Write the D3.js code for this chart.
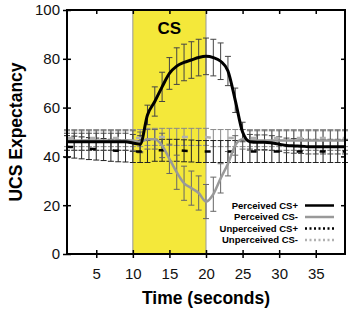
<!DOCTYPE html>
<html>
<head>
<meta charset="utf-8">
<script src="https://cdn.jsdelivr.net/npm/d3@7"></script>
<style>
  html, body { margin: 0; padding: 0; background: #fff; }
  svg { display: block; }
  text { font-family: "Liberation Sans", Arial, sans-serif; }
</style>
</head>
<body>
<svg id="chart" width="350" height="314"></svg>
<script>
// ---- data ----
const time = [1,2,3,4,5,6,7,8,9,10,11,12,13,14,15,16,17,18,19,20,21,22,23,24,25,26,27,28,29,30,31,32,33,34,35,36,37,38,39];
const percPlus = [46,46,46,46,46,46,46,46,46,45.5, 45,57,62.5,68.5,74,77,78.5,79.5,80.5,81, 80.5,79,75,63,50,46,45.8,45.8,45.5,45, 44.5,44.3,44.2,44,44,44,44,44,44];
const percPlusErr = [3.5,3.5,3.5,3.5,3.5,3.5,3.5,3.5,3.5,3.5, 3.5,4,6,6,6.5,7.5,7.5,7.5,7.5,7.5, 7.5,7.5,6,5,4,3,3,3,3,3, 3,3,3,3,3,3,3,3,3];
const percMinus = [46.5,46.5,46.5,46.5,46.5,46.5,46.5,46.5,46.5,46.5, 46,47,47,44.5,39,33.5,29,27,25,21.5, 24.5,31,37,44.5,47,46.5,46.5,46.5,46.5,46.5, 46.5,46.5,46.5,46.5,46.5,46.5,46.5,46.5,46.5];
const percMinusErr = [4,4,4,4,4,4,4,4,4,4, 4,4,4,5,6,7,7,7,7,7, 7,6,5,4,4,4,4,4,4,4, 4,4,4,4,4,4,4,4,4];
const unpPlus = [44,43.8,43.5,43.2,43,42.8,42.5,42.3,42.2,42, 42,42,42.5,42.5,42.5,42.5,42.3,42.2,42,42, 42,42,42,42,42,42,42,42,42,42, 42,42,42,42,42,42,42,42,42];
const unpPlusErr = [4.5,4.5,4.5,4.5,4.5,4.5,4.5,4.5,4.5,4.5, 4.5,4.5,4.5,4.5,4.5,4.5,4.5,4.5,4.5,4.5, 4.5,4.5,4.5,4.5,4.5,4.5,4.5,4.5,4.5,4.5, 4.5,4.5,4.5,4.5,4.5,4.5,4.5,4.5,4.5];
const unpMinus = [47.5,47.5,47.5,47.5,47.5,47.5,47.5,47.5,47.5,47.5, 47.5,48,48,48,48,48,48,48,48,48, 47.5,47.5,47.5,47.5,47.5,47.5,47.5,47.5,47.5,47.5, 47.5,47.5,47.5,47.5,47.5,47.5,47.5,47.5,47.5];
const unpMinusErr = [3.5,3.5,3.5,3.5,3.5,3.5,3.5,3.5,3.5,3.5, 3.5,3.5,3.5,3.5,3.5,3.5,3.5,3.5,3.5,3.5, 3.5,3.5,3.5,3.5,3.5,3.5,3.5,3.5,3.5,3.5, 3.5,3.5,3.5,3.5,3.5,3.5,3.5,3.5,3.5];
const csWindow = [10, 20];
const xTicks = [5,10,15,20,25,30,35];
const yTicks = [0,20,40,60,80,100];
const legendLabels = ["Perceived CS+", "Perceived CS-", "Unperceived CS+", "Unperceived CS-"];

// ---- layout ----
const svg = d3.select("#chart");
const L = 67, R = 345, T = 10, B = 254;
const x = d3.scaleLinear().domain([1, 39]).range([L, R]);
const y = d3.scaleLinear().domain([0, 100]).range([B, T]);

svg.append("rect").attr("width", 350).attr("height", 314).attr("fill", "#fff");

// CS window
svg.append("rect")
  .attr("x", x(csWindow[0])).attr("y", T)
  .attr("width", x(csWindow[1]) - x(csWindow[0])).attr("height", B - T)
  .attr("fill", "#f4e83a");
csWindow.forEach(v => svg.append("line")
  .attr("x1", x(v)).attr("x2", x(v)).attr("y1", T).attr("y2", B)
  .attr("stroke", "#999").attr("stroke-width", 1));

svg.append("text").attr("x", x(15)).attr("y", 34)
  .attr("text-anchor", "middle").attr("font-size", 17).attr("font-weight", "bold")
  .text("CS");

const series = [
  { vals: unpMinus, err: unpMinusErr, color: "#b0b0b0", errColor: "#8a8a8a", width: 2.5, dash: "6,17", legendDash: "2,2.5" },
  { vals: unpPlus, err: unpPlusErr, color: "#000", errColor: "#222", width: 2.5, dash: "6,17", legendDash: "2,2.5" },
  { vals: percMinus, err: percMinusErr, color: "#999", errColor: "#666", width: 2.5, dash: null, legendDash: null },
  { vals: percPlus, err: percPlusErr, color: "#000", errColor: "#444", width: 3, dash: null, legendDash: null }
];

const cap = 3;
const plot = svg.append("g");
// error bars
series.forEach(s => {
  const g = plot.append("g").attr("stroke", s.errColor).attr("stroke-width", 1).attr("fill", "none");
  time.forEach((t, i) => {
    const cx = x(t), y0 = y(s.vals[i] - s.err[i]), y1 = y(s.vals[i] + s.err[i]);
    g.append("path").attr("d",
      `M${cx},${y0}V${y1}M${cx - cap},${y0}H${cx + cap}M${cx - cap},${y1}H${cx + cap}`);
  });
});
// lines
const lineGen = vals => d3.line().x((d, i) => x(time[i])).y(d => y(d)).curve(d3.curveMonotoneX)(vals);
series.forEach(s => {
  const p = plot.append("path").attr("d", lineGen(s.vals))
    .attr("fill", "none").attr("stroke", s.color).attr("stroke-width", s.width)
    .attr("stroke-linejoin", "round");
  if (s.dash) p.attr("stroke-dasharray", s.dash);
});

// axes
const fontSize = 15;
const gx = svg.append("g").attr("transform", `translate(0,${B})`)
  .call(d3.axisBottom(x).tickValues(xTicks).tickSize(4).tickPadding(10.5));
gx.selectAll(".tick line").attr("y1", -4).attr("stroke-width", 1.5);
const gy = svg.append("g").attr("transform", `translate(${L},0)`)
  .call(d3.axisLeft(y).tickValues(yTicks).tickSize(4).tickPadding(3));
gy.selectAll(".tick line").attr("x1", 4).attr("stroke-width", 1.5);
const gt = svg.append("g").attr("transform", `translate(0,${T})`)
  .call(d3.axisTop(x).tickValues(xTicks).tickSize(-4).tickFormat(""));
gt.selectAll(".tick line").attr("stroke-width", 1.5);
const gr = svg.append("g").attr("transform", `translate(${R},0)`)
  .call(d3.axisRight(y).tickValues(yTicks.slice(1, -1)).tickSize(-4).tickFormat(""));
gr.selectAll(".tick line").attr("stroke-width", 1.5);
[gx, gy, gt, gr].forEach(g => {
  g.select(".domain").remove();
  g.selectAll("text").attr("font-size", fontSize).attr("fill", "#111")
    .attr("font-family", '"Liberation Sans", Arial, sans-serif');
});

svg.append("rect").attr("x", L).attr("y", T).attr("width", R - L).attr("height", B - T)
  .attr("fill", "none").attr("stroke", "#000").attr("stroke-width", 2);

// axis titles
svg.append("text").attr("x", (L + R) / 2).attr("y", 304)
  .attr("text-anchor", "middle").attr("font-size", 17.5).attr("font-weight", "bold")
  .text("Time (seconds)");
svg.append("text").attr("transform", `translate(22,${(T + B) / 2}) rotate(-90)`)
  .attr("text-anchor", "middle").attr("font-size", 17.5).attr("font-weight", "bold")
  .text("UCS Expectancy");

// legend
const legendOrder = [series[3], series[2], series[1], series[0]];
const ly = [205.5, 217, 228.5, 240];
legendLabels.forEach((lab, i) => {
  svg.append("text").attr("x", 298).attr("y", ly[i] + 3.4)
    .attr("text-anchor", "end").attr("font-size", 9.5).attr("font-weight", "bold")
    .text(lab);
  const s = legendOrder[i];
  const ln = svg.append("line").attr("x1", 305).attr("x2", 334).attr("y1", ly[i]).attr("y2", ly[i])
    .attr("stroke", s.color).attr("stroke-width", 2.5);
  if (s.legendDash) ln.attr("stroke-dasharray", s.legendDash);
});
</script>
</body>
</html>
